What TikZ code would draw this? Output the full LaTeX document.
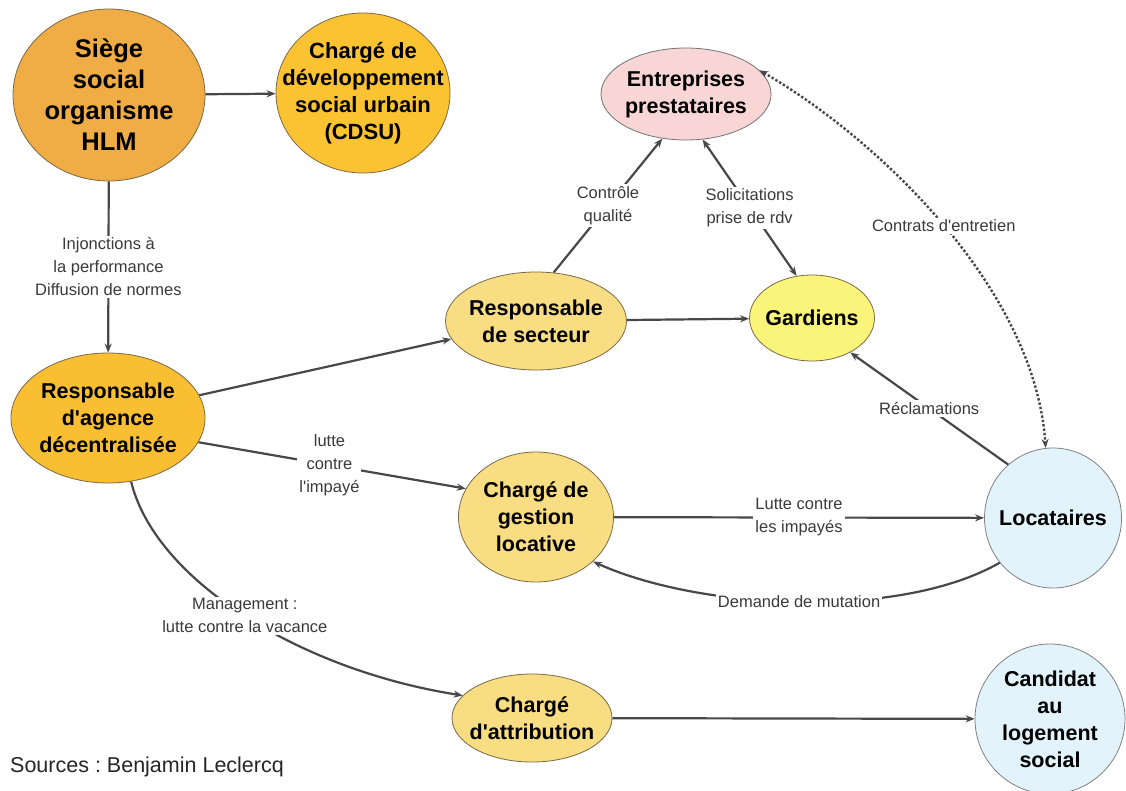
\documentclass[tikz,border=0pt]{standalone}
\usepackage{fontspec}
\setmainfont{Liberation Sans}[Ligatures=TeXOff]
\usetikzlibrary{shapes.geometric,arrows.meta}
\definecolor{cSiege}{HTML}{F0AD45}
\definecolor{cCdsu}{HTML}{FBC232}
\definecolor{cAgence}{HTML}{F9BE32}
\definecolor{cLight}{HTML}{F8DD82}
\definecolor{cGard}{HTML}{FBF47A}
\definecolor{cPink}{HTML}{F9D6D6}
\definecolor{cBlue}{HTML}{E3F3FB}
\definecolor{cLine}{HTML}{484848}
\definecolor{cText}{HTML}{3A3A3A}
\definecolor{cBorder}{HTML}{7A6A48}
\frenchspacing
\tikzset{
  ell/.style={ellipse, draw=cBorder, line width=0.8pt, inner xsep=-20pt, inner ysep=0pt, align=center,
    font=\fontsize{21.5}{27}\selectfont\bfseries, text=black},
  arr/.style={draw=cLine, line width=2.2pt, -{Stealth[length=9pt,width=7pt]}},
  darr/.style={arr, {Stealth[length=9pt,width=7pt]}-{Stealth[length=9pt,width=7pt]}},
  dotarr/.style={darr, line width=2.4pt, dash pattern=on 2.4pt off 2pt},
  lbl/.style={fill=white, inner sep=2pt, align=center, text=cText,
    font=\fontsize{16.5}{23}\selectfont},
}
\begin{document}
\begin{tikzpicture}[x=1pt,y=-1pt]
\clip (0,0) rectangle (1126,790);
\useasboundingbox (0,0) rectangle (1126,790);
\fill[white] (0,0) rectangle (1126,790);

\node[ell, fill=cSiege, minimum width=192pt, minimum height=172pt,
  font=\fontsize{25.5}{31}\selectfont\bfseries] (siege) at (109,95)
  {Siège\\social\\organisme\\HLM};
\node[ell, fill=cCdsu, minimum width=174pt, minimum height=160pt,
  font=\fontsize{22}{27}\selectfont\bfseries] (cdsu) at (363,93)
  {Chargé de\\développement\\social urbain\\(CDSU)};
\node[ell, fill=cPink, draw=black!55, minimum width=170pt, minimum height=92pt] (entre) at (686,94)
  {Entreprises\\prestataires};
\node[ell, fill=cLight, minimum width=181pt, minimum height=98pt] (secteur) at (536,321)
  {Responsable\\de secteur};
\node[ell, fill=cGard, minimum width=125pt, minimum height=86pt] (gard) at (812,318)
  {Gardiens};
\node[ell, fill=cAgence, minimum width=194pt, minimum height=130pt] (agence) at (108,418)
  {Responsable\\d'agence\\décentralisée};
\node[ell, fill=cLight, minimum width=155pt, minimum height=130pt] (gest) at (536,517)
  {Chargé de\\gestion\\locative};
\node[ell, fill=cBlue, draw=black!50, minimum width=137pt, minimum height=140pt] (loc) at (1053,518)
  {Locataires};
\node[ell, fill=cLight, minimum width=160pt, minimum height=88pt] (attrib) at (532,718)
  {Chargé\\d'attribution};
\node[ell, fill=cBlue, draw=black!50, minimum width=150pt, minimum height=150pt] (cand) at (1050,719)
  {Candidat\\au\\logement\\social};

\draw[arr] (siege) -- (cdsu);
\draw[arr] (siege) -- node[lbl] {Injonctions à\\la performance\\Diffusion de normes} (agence);
\draw[arr] (agence.14) -- (secteur.192);
\draw[arr] (agence.-15) -- node[lbl, pos=0.49] {lutte\\contre\\l'impayé} (gest.158);
\draw[arr] (agence.-70) .. controls (155,580) and (300,670) .. node[lbl] {Management :\\lutte contre la vacance} (attrib.162);
\draw[arr] (secteur) -- (gard);
\draw[arr] (secteur.70) -- node[lbl] {Contrôle\\qualité} (entre.-118);
\draw[darr] (gard.110) -- node[lbl] {Solicitations\\prise de rdv} (entre.-70);
\draw[arr] (loc.130) -- node[lbl] {Réclamations} (gard.-42);
\draw[arr] (gest) -- node[lbl] {Lutte contre\\les impayés} (loc);
\draw[arr] (loc.-140) .. controls (900,620) and (700,610) .. node[lbl] {Demande de mutation} (gest.-38);
\draw[arr] (attrib) -- (cand);
\draw[dotarr] (entre.18) .. controls (880,140) and (1035,290) .. node[lbl, pos=0.5] {Contrats d'entretien} (loc.96);

\node[anchor=base west, font=\fontsize{21.5}{26}\selectfont, text=black!85, inner sep=0pt] (src) at (10,772)
  {Sources : Benjamin Leclercq};
\end{tikzpicture}
\end{document}
